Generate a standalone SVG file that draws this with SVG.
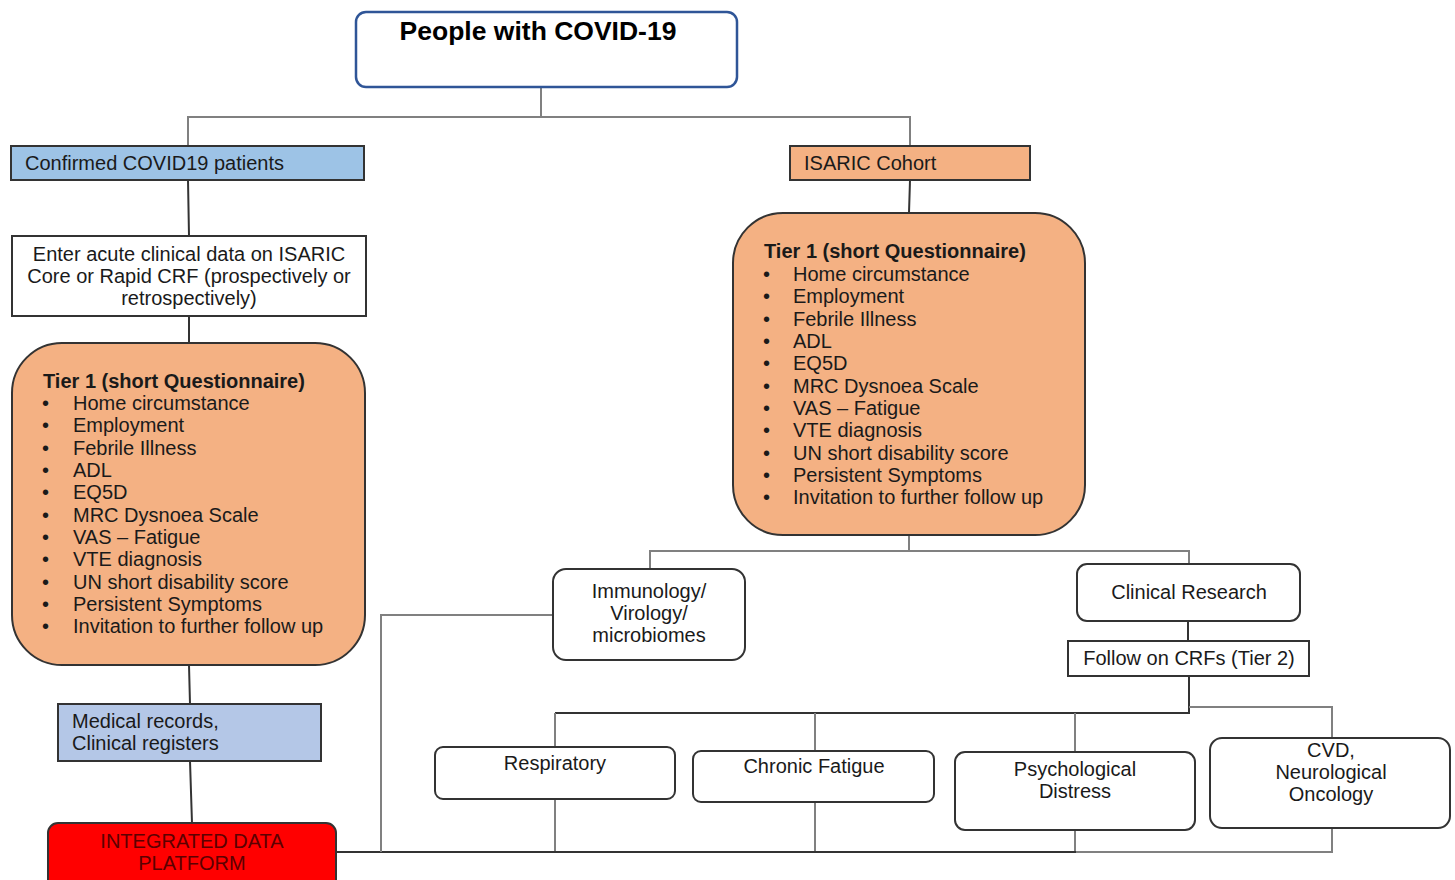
<svg xmlns="http://www.w3.org/2000/svg" width="1455" height="880" viewBox="0 0 1455 880">
<style>
text{font-family:"Liberation Sans",Arial,sans-serif;font-size:20px;fill:#1a1a1a}
.c{text-anchor:middle}
.b{font-weight:bold}
.box{stroke:#333;stroke-width:2}
.w{fill:#fff}
.or{fill:#F4B183}
.gl{fill:none;stroke:#808080;stroke-width:2}
.dl{fill:none;stroke:#333;stroke-width:2}
</style>
<rect width="1455" height="880" fill="#fff"/>
<g id="connectors">
<path class="gl" d="M541,87 V117 M188,146 V117 H910 V146"/>
<path class="dl" d="M188,180 L189,236 M189,316 V343 M189,665 L190,704 M190,761 L192,823"/>
<path class="dl" d="M910,180 L909,213"/>
<path class="gl" d="M909,535 V551 M650,569 V551 H1189 V564"/>
<path class="dl" d="M1188,621 V641"/>
<path class="dl" d="M1189,676 V713 H555"/>
<path class="gl" d="M1189,707 H1332 V738"/>
<path class="gl" d="M555,713 V747 M815,713 V751 M1075,713 V752"/>
<path class="gl" d="M555,799 V852 M815,802 V852 M1075,830 V852 M1332,828 V852 H1076"/>
<path class="dl" d="M336,852 H1076"/>
<path class="gl" d="M381,852 V615 H553"/>
</g>
<g id="n-people">
<rect x="356" y="12" width="381" height="75" rx="10" fill="#fff" stroke="#2F5597" stroke-width="2.5"/>
<text x="538" y="40" class="c b" style="font-size:26.5px;fill:#000">People with COVID-19</text>
</g>
<g id="n-confirmed">
<rect x="11" y="146" width="353" height="34" class="box" fill="#9DC3E6"/>
<text x="25" y="170">Confirmed COVID19 patients</text>
</g>
<g id="n-enter">
<rect x="12" y="236" width="354" height="80" class="box w"/>
<text x="189" y="261" class="c">Enter acute clinical data on ISARIC</text>
<text x="189" y="283" class="c">Core or Rapid CRF (prospectively or</text>
<text x="189" y="305" class="c">retrospectively)</text>
</g>
<g id="n-tier1-left">
<rect x="12" y="343" width="353" height="322" rx="50" class="box or"/>
<text x="43" y="388" class="b">Tier 1 (short Questionnaire)</text>
<g>
<text x="42" y="410">•</text><text x="73" y="410">Home circumstance</text>
<text x="42" y="432">•</text><text x="73" y="432">Employment</text>
<text x="42" y="455">•</text><text x="73" y="455">Febrile Illness</text>
<text x="42" y="477">•</text><text x="73" y="477">ADL</text>
<text x="42" y="499">•</text><text x="73" y="499">EQ5D</text>
<text x="42" y="522">•</text><text x="73" y="522">MRC Dysnoea Scale</text>
<text x="42" y="544">•</text><text x="73" y="544">VAS – Fatigue</text>
<text x="42" y="566">•</text><text x="73" y="566">VTE diagnosis</text>
<text x="42" y="589">•</text><text x="73" y="589">UN short disability score</text>
<text x="42" y="611">•</text><text x="73" y="611">Persistent Symptoms</text>
<text x="42" y="633">•</text><text x="73" y="633">Invitation to further follow up</text>
</g>
</g>
<g id="n-medical">
<rect x="58" y="704" width="263" height="57" class="box" fill="#B4C7E7"/>
<text x="72" y="728">Medical records,</text>
<text x="72" y="750">Clinical registers</text>
</g>
<g id="n-platform">
<rect x="48" y="823" width="288" height="70" rx="10" class="box" fill="#FF0000"/>
<text x="192" y="848" class="c" style="fill:#5c0000">INTEGRATED DATA</text>
<text x="192" y="870" class="c" style="fill:#5c0000">PLATFORM</text>
</g>
<g id="n-isaric">
<rect x="790" y="146" width="240" height="34" class="box or"/>
<text x="804" y="170">ISARIC Cohort</text>
</g>
<g id="n-tier1-right">
<rect x="733" y="213" width="352" height="322" rx="50" class="box or"/>
<text x="764" y="258" class="b">Tier 1 (short Questionnaire)</text>
<g>
<text x="763" y="281">•</text><text x="793" y="281">Home circumstance</text>
<text x="763" y="303">•</text><text x="793" y="303">Employment</text>
<text x="763" y="326">•</text><text x="793" y="326">Febrile Illness</text>
<text x="763" y="348">•</text><text x="793" y="348">ADL</text>
<text x="763" y="370">•</text><text x="793" y="370">EQ5D</text>
<text x="763" y="393">•</text><text x="793" y="393">MRC Dysnoea Scale</text>
<text x="763" y="415">•</text><text x="793" y="415">VAS – Fatigue</text>
<text x="763" y="437">•</text><text x="793" y="437">VTE diagnosis</text>
<text x="763" y="460">•</text><text x="793" y="460">UN short disability score</text>
<text x="763" y="482">•</text><text x="793" y="482">Persistent Symptoms</text>
<text x="763" y="504">•</text><text x="793" y="504">Invitation to further follow up</text>
</g>
</g>
<g id="n-immunology">
<rect x="553" y="569" width="192" height="91" rx="13" class="box w"/>
<text x="649" y="598" class="c">Immunology/</text>
<text x="649" y="620" class="c">Virology/</text>
<text x="649" y="642" class="c">microbiomes</text>
</g>
<g id="n-clinical">
<rect x="1077" y="564" width="223" height="57" rx="10" class="box w"/>
<text x="1189" y="599" class="c">Clinical Research</text>
</g>
<g id="n-follow">
<rect x="1068" y="641" width="241" height="35" class="box w"/>
<text x="1189" y="665" class="c">Follow on CRFs (Tier 2)</text>
</g>
<g id="n-respiratory">
<rect x="435" y="747" width="240" height="52" rx="8" class="box w"/>
<text x="555" y="770" class="c">Respiratory</text>
</g>
<g id="n-fatigue">
<rect x="693" y="751" width="241" height="51" rx="8" class="box w"/>
<text x="814" y="773" class="c">Chronic Fatigue</text>
</g>
<g id="n-psych">
<rect x="955" y="752" width="240" height="78" rx="10" class="box w"/>
<text x="1075" y="776" class="c">Psychological</text>
<text x="1075" y="798" class="c">Distress</text>
</g>
<g id="n-cvd">
<rect x="1210" y="738" width="240" height="90" rx="12" class="box w"/>
<text x="1331" y="757" class="c">CVD,</text>
<text x="1331" y="779" class="c">Neurological</text>
<text x="1331" y="801" class="c">Oncology</text>
</g>
</svg>
